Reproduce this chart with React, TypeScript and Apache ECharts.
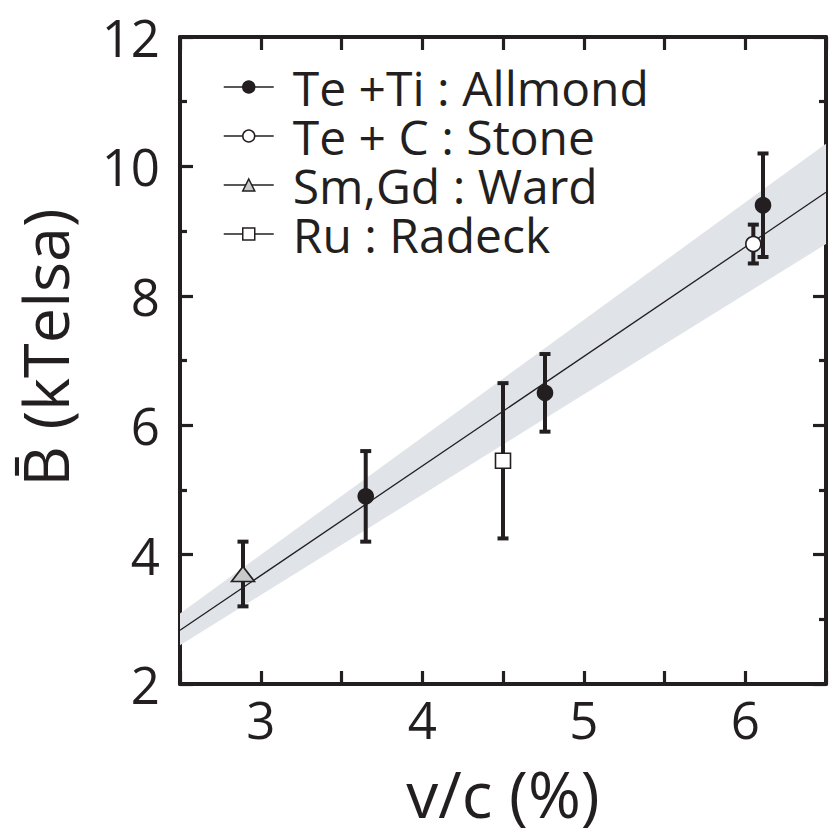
import React, { useEffect, useRef } from "react";
import * as echarts from "echarts";

// v/c in percent, mean field B in kTesla, with error-bar ends
const allmondV = [3.65, 4.76, 6.11];
const allmondB = [4.9, 6.5, 9.4];
const allmondLo = [4.2, 5.9, 8.6];
const allmondHi = [5.6, 7.1, 10.2];

const stoneV = [6.05];
const stoneB = [8.8];
const stoneLo = [8.5];
const stoneHi = [9.1];

const wardV = [2.89];
const wardB = [3.7];
const wardLo = [3.2];
const wardHi = [4.2];

const radeckV = [4.5];
const radeckB = [5.45];
const radeckLo = [4.25];
const radeckHi = [6.65];

// linear fit and its uncertainty band
const fitV = [2.5, 6.5];
const fitB = [2.83, 9.6];
const bandLow = [2.6, 8.8];
const bandHigh = [3.09, 10.35];

const xTicks = [3, 4, 5, 6];

const INK = "#231f20";
const FONT = "Open Sans";

const pts = (xs: number[], ys: number[]) => xs.map((x, i) => [x, ys[i]]);
const bars = (xs: number[], lo: number[], hi: number[]) =>
  xs.map((x, i) => [x, lo[i], hi[i]]);

const errorBarSeries = (name: string, data: number[][]) => ({
  type: "custom",
  name: name + " error",
  z: 3,
  silent: true,
  encode: { x: 0, y: [1, 2] },
  data,
  renderItem: (_p: any, api: any) => {
    const x = api.value(0);
    const top = api.coord([x, api.value(2)]);
    const bot = api.coord([x, api.value(1)]);
    const hw = 5.5;
    const st = { stroke: INK, lineWidth: 4 };
    return {
      type: "group",
      children: [
        { type: "line", shape: { x1: top[0], y1: top[1], x2: bot[0], y2: bot[1] }, style: st },
        { type: "line", shape: { x1: top[0] - hw, y1: top[1], x2: top[0] + hw, y2: top[1] }, style: st },
        { type: "line", shape: { x1: bot[0] - hw, y1: bot[1], x2: bot[0] + hw, y2: bot[1] }, style: st },
      ],
    };
  },
});

const markerSeries = (name: string, data: number[][], symbol: string, size: any, fill: string) => ({
  type: "line",
  name,
  z: 5,
  data,
  symbol,
  symbolSize: size,
  showSymbol: true,
  lineStyle: { opacity: 0 },
  itemStyle: { color: fill, borderColor: INK, borderWidth: 1.6, opacity: 1 },
  emphasis: { disabled: true },
});

export default function App() {
  const ref = useRef<HTMLDivElement>(null);

  useEffect(() => {
    if (!ref.current) return;
    const chart = echarts.init(ref.current, undefined, { renderer: "svg" });

    const tickStyle = { color: INK, width: 3.2 };
    const xBase = {
      type: "value",
      min: 2.5,
      max: 6.5,
      interval: 0.5,
      axisLine: { show: true, onZero: false, lineStyle: { color: INK, width: 4 } },
      axisTick: { show: true, inside: true, length: 13, lineStyle: tickStyle },
      splitLine: { show: false },
    };
    const yBase = {
      type: "value",
      min: 2,
      max: 12,
      interval: 2,
      axisLine: { show: true, onZero: false, lineStyle: { color: INK, width: 4 } },
      axisTick: { show: true, inside: true, length: 13, lineStyle: tickStyle },
      minorTick: { show: true, splitNumber: 2, length: 7, lineStyle: tickStyle },
      splitLine: { show: false },
      minorSplitLine: { show: false },
    };

    chart.setOption({
      animation: false,
      textStyle: { fontFamily: FONT },
      grid: { left: 180, top: 37, width: 652, height: 649, containLabel: false },
      legend: {
        orient: "vertical",
        left: 223,
        top: 63,
        padding: 0,
        itemGap: 1,
        itemWidth: 50,
        itemHeight: 15,
        selectedMode: false,
        data: ["Te +Ti : Allmond", "Te + C : Stone", "Sm,Gd : Ward", "Ru : Radeck"],
        lineStyle: { color: INK, width: 1.5, opacity: 1 },
        itemStyle: { borderWidth: 1.5 },
        textStyle: {
          fontFamily: FONT,
          fontSize: 48,
          lineHeight: 48,
          color: INK,
          padding: [0, 0, 0, 14],
        },
      },
      xAxis: [
        {
          ...xBase,
          position: "bottom",
          name: "v/c (%)",
          nameLocation: "middle",
          nameGap: 81,
          nameTextStyle: { fontFamily: FONT, fontSize: 64, lineHeight: 56, color: INK },
          axisLabel: {
            show: true,
            fontSize: 51,
            color: INK,
            margin: 9,
            formatter: (v: number) => (xTicks.includes(v) ? String(v) : ""),
          },
        },
        { ...xBase, position: "top", axisLabel: { show: false } },
      ],
      yAxis: [
        {
          ...yBase,
          position: "left",
          name: "B\u0304 (kTelsa)",
          nameLocation: "middle",
          nameRotate: 90,
          nameGap: 106,
          nameTextStyle: {
            fontFamily: FONT,
            fontSize: 63,
            lineHeight: 60,
            color: INK,
            padding: [0, 0, 0, 26],
          },
          axisLabel: { show: true, fontSize: 51, color: INK, margin: 20 },
        },
        { ...yBase, position: "right", axisLabel: { show: false } },
      ],
      series: [
        {
          type: "custom",
          name: "band",
          z: 1,
          silent: true,
          clip: true,
          encode: { x: 0, y: [1, 2] },
          data: bars(fitV, bandLow, bandHigh),
          renderItem: (p: any, api: any) => {
            if (p.dataIndex !== 0) return null;
            const upper = fitV.map((v, i) => api.coord([v, bandHigh[i]]));
            const lower = fitV.map((v, i) => api.coord([v, bandLow[i]])).reverse();
            return {
              type: "polygon",
              shape: { points: upper.concat(lower) },
              style: { fill: "#e0e3e8" },
            };
          },
        },
        {
          type: "line",
          name: "fit",
          z: 2,
          silent: true,
          data: pts(fitV, fitB),
          symbol: "none",
          lineStyle: { color: INK, width: 1.3 },
        },
        errorBarSeries("Te +Ti : Allmond", bars(allmondV, allmondLo, allmondHi)),
        errorBarSeries("Te + C : Stone", bars(stoneV, stoneLo, stoneHi)),
        errorBarSeries("Sm,Gd : Ward", bars(wardV, wardLo, wardHi)),
        errorBarSeries("Ru : Radeck", bars(radeckV, radeckLo, radeckHi)),
        markerSeries("Te +Ti : Allmond", pts(allmondV, allmondB), "circle", 15, INK),
        markerSeries("Te + C : Stone", pts(stoneV, stoneB), "circle", 15, "#ffffff"),
        markerSeries("Sm,Gd : Ward", pts(wardV, wardB), "triangle", [23, 15], "#c8c9cb"),
        markerSeries("Ru : Radeck", pts(radeckV, radeckB), "rect", 15, "#ffffff"),
      ],
    });

    return () => chart.dispose();
  }, []);

  return (
    <div
      ref={ref}
      style={{ position: "absolute", left: 0, top: 0, width: 829, height: 830, background: "#fff" }}
    />
  );
}
